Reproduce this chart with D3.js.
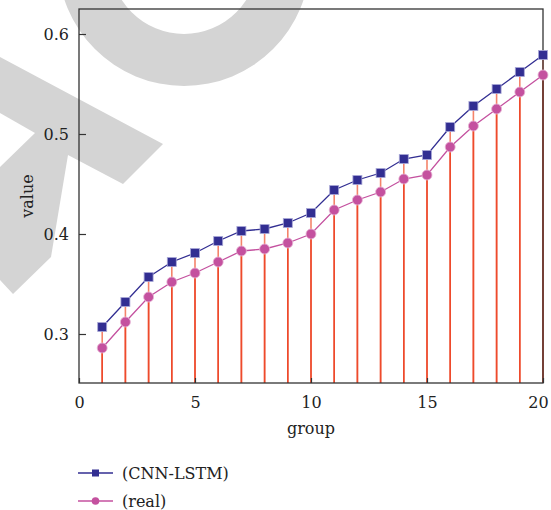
<!DOCTYPE html>
<html>
<head>
<meta charset="utf-8">
<script src="https://cdn.jsdelivr.net/npm/d3@7"></script>
<style>
  body { margin: 0; background: #fff; }
  svg text { font-family: "DejaVu Serif", "Liberation Serif", serif; fill: #222; }
</style>
</head>
<body>
<div id="chart"></div>
<script>
const groups = d3.range(1, 21)
const cnnLstm = [0.307, 0.332, 0.357, 0.372, 0.381, 0.393, 0.403, 0.405, 0.411, 0.421,
  0.444, 0.454, 0.461, 0.475, 0.479, 0.507, 0.528, 0.545, 0.562, 0.579]
const real = [0.286, 0.312, 0.337, 0.352, 0.361, 0.372, 0.383, 0.385, 0.391, 0.400,
  0.424, 0.434, 0.442, 0.455, 0.459, 0.487, 0.508, 0.525, 0.542, 0.559]
const xTicks = [0, 5, 10, 15, 20]
const yTicks = [0.3, 0.4, 0.5, 0.6]
const seriesNames = ['(CNN-LSTM)', '(real)']

const width = 551, height = 510
const margin = { left: 79, top: 9, right: 8, bottom: 127 }
const fontFamily = '"DejaVu Serif", "Liberation Serif", serif'
const fontSize = 16

const blue = '#322e92', magenta = '#c4519f', stemCol = '#ee4a2c'

const svg = d3.select('#chart').append('svg')
  .attr('width', width).attr('height', height)

// watermark behind the chart
const wm = svg.append('g').attr('fill', '#d4d4d4')
wm.append('path')
  .attr('fill-rule', 'evenodd')
  .attr('d', d3.arc()({ innerRadius: 0, outerRadius: 126, startAngle: 0, endAngle: 2 * Math.PI }) +
    d3.arc()({ innerRadius: 0, outerRadius: 74, startAngle: 0, endAngle: 2 * Math.PI }))
  .attr('transform', 'translate(184,-40)')
wm.append('path')
  .attr('d', 'M0,57 L163,144 L123,184 L68,155 L51,257 L13,294 L0,280 L0,167 L35,133 L0,113 Z')

const x = d3.scaleLinear().domain([0, 20]).range([margin.left, width - margin.right])
const y = d3.scaleLinear().domain([0.251, 0.625]).range([height - margin.bottom, margin.top])

const plotBottom = y.range()[0]

// stems
svg.append('g').selectAll('line')
  .data(groups)
  .join('line')
  .attr('x1', d => x(d)).attr('x2', d => x(d))
  .attr('y1', plotBottom).attr('y2', (d, i) => y(cnnLstm[i]))
  .attr('stroke', '#f4836a').attr('stroke-width', 1.6)
svg.append('g').selectAll('line')
  .data(groups)
  .join('line')
  .attr('x1', d => x(d)).attr('x2', d => x(d))
  .attr('y1', plotBottom).attr('y2', (d, i) => y(real[i]))
  .attr('stroke', stemCol).attr('stroke-width', 1.6)

// frame
svg.append('rect')
  .attr('x', x(0)).attr('y', margin.top)
  .attr('width', x(20) - x(0)).attr('height', plotBottom - margin.top)
  .attr('fill', 'none').attr('stroke', '#333').attr('stroke-width', 1.3)

const xAxis = svg.append('g')
  .attr('transform', `translate(0,${plotBottom})`)
  .call(d3.axisBottom(x).tickValues(xTicks).tickSize(-5).tickPadding(10).tickFormat(d3.format('d')))
const yAxis = svg.append('g')
  .attr('transform', `translate(${margin.left},0)`)
  .call(d3.axisLeft(y).tickValues(yTicks).tickSize(-7).tickPadding(10).tickFormat(d3.format('.1f')))
;[xAxis, yAxis].forEach(a => {
  a.attr('font-family', fontFamily).attr('font-size', fontSize)
  a.select('.domain').remove()
  a.selectAll('line').attr('stroke', '#333').attr('stroke-width', 1.2)
  a.selectAll('text').attr('fill', '#222')
})
xAxis.selectAll('text').attr('dy', '0.95em')
  .attr('dx', d => d === 20 ? -5 : 0)

svg.append('text')
  .attr('x', (x(0) + x(20)) / 2).attr('y', 434)
  .attr('text-anchor', 'middle').attr('font-size', fontSize)
  .text('group')
svg.append('text')
  .attr('transform', `translate(33,${(margin.top + plotBottom) / 2}) rotate(-90)`)
  .attr('text-anchor', 'middle').attr('font-size', fontSize)
  .text('value')

// lines and markers
const line = d3.line().x(d => x(d[0])).y(d => y(d[1]))
const cnnPts = groups.map((g, i) => [g, cnnLstm[i]])
const realPts = groups.map((g, i) => [g, real[i]])

svg.append('path').datum(realPts).attr('d', line)
  .attr('fill', 'none').attr('stroke', magenta).attr('stroke-width', 1.3)
svg.append('path').datum(cnnPts).attr('d', line)
  .attr('fill', 'none').attr('stroke', blue).attr('stroke-width', 1.3)

svg.append('g').selectAll('circle')
  .data(realPts).join('circle')
  .attr('cx', d => x(d[0])).attr('cy', d => y(d[1])).attr('r', 5)
  .attr('fill', magenta).attr('stroke', '#e7b6d6').attr('stroke-width', 0.8)
svg.append('g').selectAll('rect')
  .data(cnnPts).join('rect')
  .attr('x', d => x(d[0]) - 4.5).attr('y', d => y(d[1]) - 4.5)
  .attr('width', 9).attr('height', 9)
  .attr('fill', blue).attr('stroke', '#a9a8d8').attr('stroke-width', 0.8)

// legend
const legend = svg.append('g')
const rows = [
  { name: seriesNames[0], color: blue, shape: 'square', y: 473 },
  { name: seriesNames[1], color: magenta, shape: 'circle', y: 501 }
]
rows.forEach(r => {
  legend.append('line')
    .attr('x1', 78).attr('x2', 113).attr('y1', r.y).attr('y2', r.y)
    .attr('stroke', r.color).attr('stroke-width', 1.3)
  if (r.shape === 'square') {
    legend.append('rect').attr('x', 92).attr('y', r.y - 3.5).attr('width', 7).attr('height', 7)
      .attr('fill', r.color)
  } else {
    legend.append('circle').attr('cx', 95.5).attr('cy', r.y).attr('r', 3.8).attr('fill', r.color)
  }
  legend.append('text').attr('x', 122).attr('y', r.y + 6).attr('font-size', fontSize).text(r.name)
})
</script>
</body>
</html>
